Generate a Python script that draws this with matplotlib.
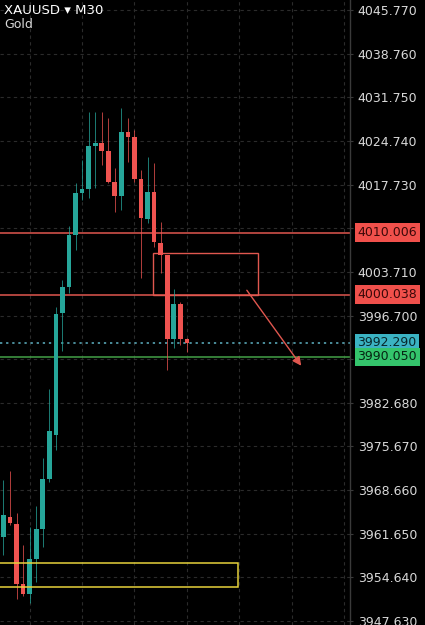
import matplotlib
matplotlib.use("Agg")
import matplotlib.pyplot as plt
import matplotlib.transforms as mtransforms
from matplotlib.patches import Rectangle

# XAUUSD M30 candles
opens = [3961.12, 3964.34, 3963.21, 3953.57, 3951.97, 3957.59, 3962.41, 3970.44, 3977.51, 3997.10,
         4001.28, 4009.63, 4016.38, 4017.02, 4023.93, 4024.41, 4023.12, 4018.14, 4015.89, 4026.17,
         4025.37, 4018.63, 4012.20, 4016.54, 4008.35, 4006.42, 3992.93, 3998.55, 3992.93]
highs = [3970.28, 3971.72, 3964.98, 3959.84, 3962.73, 3966.10, 3973.81, 3984.90, 3998.07, 4002.40,
         4011.08, 4017.98, 4021.68, 4029.39, 4029.39, 4029.39, 4028.42, 4020.39, 4030.03, 4028.42,
         4026.50, 4020.07, 4022.16, 4021.20, 4011.72, 4006.42, 4000.96, 3998.87, 3993.09]
lows = [3958.23, 3963.05, 3951.16, 3951.65, 3950.52, 3953.90, 3959.52, 3969.96, 3975.10, 3991.00,
        4000.31, 4007.22, 4015.25, 4015.57, 4017.18, 4020.87, 4017.98, 4013.32, 4013.65, 4021.36,
        4018.14, 4002.72, 4011.56, 4007.70, 4003.53, 3987.95, 3991.48, 3991.96, 3990.84]
closes = [3964.66, 3963.37, 3953.57, 3951.97, 3957.59, 3962.41, 3970.44, 3978.15, 3996.94, 4001.28,
          4009.63, 4016.38, 4017.02, 4023.93, 4024.41, 4023.12, 4018.14, 4015.89, 4026.17, 4025.37,
          4018.63, 4012.36, 4016.54, 4008.51, 4006.42, 3992.93, 3998.55, 3992.93, 3992.29]

price_ticks = [4045.770, 4038.760, 4031.750, 4024.740, 4017.730, 4010.720, 4003.710, 3996.700,
               3989.690, 3982.680, 3975.670, 3968.660, 3961.650, 3954.640, 3947.630]

resistance_hi = 4010.006
resistance_lo = 4000.038
last_price = 3992.290
target = 3990.050
zone_top = 4006.74
arrow_from = (36.9, 4001.12)
arrow_to = (45.7, 3988.27)
support_zone = (3953.09, 3956.95)

UP = "#26a69a"
DOWN = "#ef5350"
LINE_RED = "#e0574f"

fig = plt.figure(figsize=(4.25, 6.25), dpi=100, facecolor="black")
ax = fig.add_axes([0, 0, 350 / 425, 1])
ax.set_facecolor("black")

x = list(range(len(opens)))
colors = [UP if c >= o else DOWN for o, c in zip(opens, closes)]
bottoms = [min(o, c) for o, c in zip(opens, closes)]
heights = [max(abs(c - o), 0.5) for o, c in zip(opens, closes)]

ax.vlines(x, lows, highs, colors=colors, linewidth=0.7, alpha=0.75, zorder=3)
ax.bar(x, heights, bottom=bottoms, width=0.72, color=colors, linewidth=0, zorder=4)

# horizontal levels
ax.axhline(resistance_hi, color=LINE_RED, lw=1.1, zorder=2)
ax.axhline(resistance_lo, color=LINE_RED, lw=1.1, zorder=2)
ax.axhline(last_price, color="#5fb3c4", lw=1.1, ls=(0, (1.5, 2.5)), zorder=2)
ax.axhline(target, color="#43a047", lw=1.1, zorder=2)

# drawn boxes
ax.add_patch(Rectangle((22.8, resistance_lo), 38.9 - 22.8, zone_top - resistance_lo,
                       fill=False, edgecolor=LINE_RED, lw=1.0, zorder=2))
ax.add_patch(Rectangle((-1, support_zone[0]), 35.8 + 1, support_zone[1] - support_zone[0],
                       fill=False, edgecolor="#e6d23c", lw=1.1, zorder=5))
ax.annotate("", xy=arrow_to, xytext=arrow_from,
            arrowprops=dict(arrowstyle="-|>", color=LINE_RED, lw=1.0, mutation_scale=13))

ax.set_xlim(-0.53, 52.9)
ax.set_ylim(3946.99, 4047.38)
ax.set_xticks([4, 12, 20, 28, 36, 44, 52])
ax.set_yticks(price_ticks)
ax.grid(True, color="#2b2b2b", lw=0.8, ls=(0, (3, 3)))
ax.tick_params(axis="x", length=0, labelbottom=False)
ax.yaxis.tick_right()
ax.tick_params(axis="y", colors="#3a3a3a", labelcolor="#d8d8d8", labelsize=9, length=2.5, pad=3)
ax.set_yticklabels([f"{p:.3f}" for p in price_ticks])
for side in ["top", "left", "bottom"]:
    ax.spines[side].set_visible(False)
ax.spines["right"].set_color("#3a3a3a")
ax.spines["right"].set_linewidth(1.0)

# price tags on the scale
trans = mtransforms.blended_transform_factory(ax.transAxes, ax.transData)
tags = [(resistance_hi, "#f0504b", "#3a0808"),
        (resistance_lo, "#f0504b", "#3a0808"),
        (last_price, "#3bb3c3", "#07262a"),
        (target, "#34c46c", "#062412")]
for val, bg, fg in tags:
    ax.text(1.021, val, f"{val:.3f}", transform=trans, ha="left", va="center", fontsize=9,
            color=fg, clip_on=False, zorder=10,
            bbox=dict(boxstyle="square,pad=0.22", facecolor=bg, edgecolor="none"))

fig.text(4 / 425, 1 - 10 / 625, "XAUUSD \u25be M30", color="white", fontsize=9.5, va="center", ha="left")
fig.text(4 / 425, 1 - 24 / 625, "Gold", color="#d8d8d8", fontsize=9, va="center", ha="left")

fig.savefig("out.png", dpi=100, facecolor="black")
